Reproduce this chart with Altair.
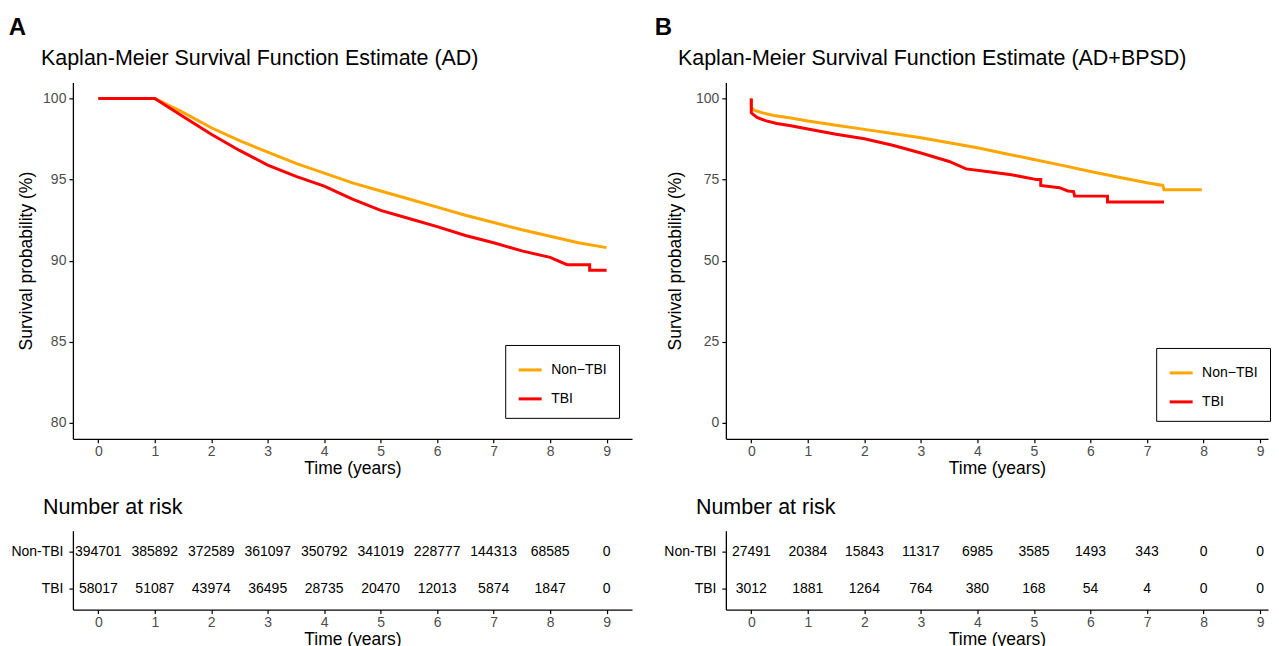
import altair as alt
import pandas as pd

FONT = "Liberation Sans"
ORANGE = "#FFA500"
RED = "#FF0000"
GROUPS = ["Non−TBI", "TBI"]
RISK_GROUPS = ["Non-TBI", "TBI"]
YEARS = [0, 1, 2, 3, 4, 5, 6, 7, 8, 9]

# ---------------- Panel A (AD) survival curves ----------------
a_non_t = [0, 1, 1.5, 2, 2.5, 3, 3.5, 4, 4.5, 5, 5.5, 6, 6.5, 7, 7.5, 8, 8.5, 9.0]
a_non_s = [100, 100, 99.15, 98.2, 97.4, 96.7, 96.0, 95.4, 94.8, 94.3, 93.8, 93.3,
           92.8, 92.35, 91.9, 91.5, 91.1, 90.8]
a_tbi_t = [0, 1, 1.5, 2, 2.5, 3, 3.5, 4, 4.5, 5, 5.5, 6, 6.5, 7, 7.5, 8, 8.3, 8.7, 8.7, 9.0]
a_tbi_s = [100, 100, 98.9, 97.8, 96.8, 95.9, 95.2, 94.6, 93.8, 93.1, 92.6, 92.1,
           91.55, 91.1, 90.6, 90.2, 89.75, 89.75, 89.4, 89.4]

# ---------------- Panel B (AD+BPSD) survival curves ----------------
b_non_t = [0, 0, 0.05, 0.2, 0.4, 0.7, 1.0, 1.5, 2.0, 2.5, 3.0, 3.5, 4.0, 4.5, 5.0,
           5.5, 6.0, 6.5, 7.0, 7.28, 7.3, 7.97]
b_non_s = [100, 97.2, 96.4, 95.6, 94.8, 94.0, 93.1, 91.8, 90.5, 89.2, 87.9, 86.4,
           84.8, 83.0, 81.2, 79.4, 77.5, 75.7, 74.0, 73.2, 71.9, 71.9]
b_tbi_t = [0, 0, 0.1, 0.25, 0.45, 0.7, 1.0, 1.5, 2.0, 2.5, 3.0, 3.5, 3.8, 4.2, 4.6,
           5.05, 5.12, 5.12, 5.45, 5.6, 5.7, 5.72, 6.3, 6.3, 7.3]
b_tbi_s = [100, 95.6, 94.2, 93.2, 92.3, 91.6, 90.6, 89.0, 87.6, 85.6, 83.2, 80.6,
           78.3, 77.4, 76.5, 75.0, 75.0, 73.2, 72.5, 71.5, 71.3, 69.9, 69.9, 68.1, 68.1]

# ---------------- Number at risk ----------------
a_risk_non = [394701, 385892, 372589, 361097, 350792, 341019, 228777, 144313, 68585, 0]
a_risk_tbi = [58017, 51087, 43974, 36495, 28735, 20470, 12013, 5874, 1847, 0]
b_risk_non = [27491, 20384, 15843, 11317, 6985, 3585, 1493, 343, 0, 0]
b_risk_tbi = [3012, 1881, 1264, 764, 380, 168, 54, 4, 0, 0]


def km_df(nt, ns, tt, ts):
    rows = []
    i = 0
    for t, s in zip(nt, ns):
        rows.append({"time": t, "surv": s, "group": GROUPS[0], "idx": i}); i += 1
    for t, s in zip(tt, ts):
        rows.append({"time": t, "surv": s, "group": GROUPS[1], "idx": i}); i += 1
    return pd.DataFrame(rows)


def risk_df(non, tbi):
    rows = []
    for t, n in zip(YEARS, non):
        rows.append({"time": t, "group": RISK_GROUPS[0], "n": n})
    for t, n in zip(YEARS, tbi):
        rows.append({"time": t, "group": RISK_GROUPS[1], "n": n})
    return pd.DataFrame(rows)


def km_chart(df, xdom, ydom, yvals, width, title, title_dx, lx, ly, lab_pad, tit_pad):
    return alt.Chart(df).mark_line(strokeWidth=3, clip=True).encode(
        x=alt.X("time:Q", scale=alt.Scale(domain=xdom, nice=False, zero=False),
                axis=alt.Axis(values=YEARS, format="d", title="Time (years)",
                              labelPadding=2, titlePadding=1)),
        y=alt.Y("surv:Q", scale=alt.Scale(domain=ydom, nice=False, zero=False),
                axis=alt.Axis(values=yvals, format="d", title="Survival probability (%)",
                              labelPadding=lab_pad, titlePadding=tit_pad)),
        color=alt.Color("group:N", scale=alt.Scale(domain=GROUPS, range=[ORANGE, RED]),
                        legend=alt.Legend(title=None, orient="none", legendX=lx, legendY=ly,
                                          strokeColor="black", fillColor="white", padding=12,
                                          symbolType="stroke", symbolSize=529,
                                          symbolStrokeWidth=3, labelFontSize=14,
                                          labelFont=FONT, labelColor="black",
                                          rowPadding=9, labelOffset=8, cornerRadius=0)),
        order=alt.Order("idx:Q"),
    ).properties(
        width=width, height=357,
        title=alt.TitleParams(title, anchor="start", frame="group", dx=title_dx,
                              fontSize=21.5, fontWeight="normal", font=FONT,
                              color="black", offset=13),
    )


def risk_chart(df, xdom, width, title_dx, lab_pad):
    return alt.Chart(df).mark_text(font=FONT, fontSize=14, color="black").encode(
        x=alt.X("time:Q", scale=alt.Scale(domain=xdom, nice=False, zero=False),
                axis=alt.Axis(values=YEARS, format="d", title="Time (years)",
                              labelPadding=2, titlePadding=1)),
        y=alt.Y("group:N", scale=alt.Scale(domain=RISK_GROUPS, padding=0.57),
                axis=alt.Axis(title=None, labelColor="black", labelPadding=lab_pad)),
        text=alt.Text("n:Q", format="d"),
    ).properties(
        width=width, height=79,
        title=alt.TitleParams("Number at risk", anchor="start", frame="group", dx=title_dx,
                              fontSize=21.5, fontWeight="normal", font=FONT,
                              color="black", offset=12),
    )


xdom_a = [-0.45, 9.45]
xdom_b = [-0.45, 9.14]

km_a = km_chart(km_df(a_non_t, a_non_s, a_tbi_t, a_tbi_s), xdom_a, [79, 101],
                [80, 85, 90, 95, 100], 560,
                "Kaplan-Meier Survival Function Estimate (AD)", -32, 433, 263, 3, 7)
km_b = km_chart(km_df(b_non_t, b_non_s, b_tbi_t, b_tbi_s), xdom_b, [-5, 105],
                [0, 25, 50, 75, 100], 543,
                "Kaplan-Meier Survival Function Estimate (AD+BPSD)", -48, 431, 266, 3, 11)

risk_a = risk_chart(risk_df(a_risk_non, a_risk_tbi), xdom_a, 560, -30, 6)
risk_b = risk_chart(risk_df(b_risk_non, b_risk_tbi), xdom_b, 543, -30, 6)

panel_a = alt.vconcat(km_a, risk_a, spacing=19).properties(
    title=alt.TitleParams("A", anchor="start", fontSize=24, fontWeight="bold", font=FONT,
                          color="black", offset=8, dx=-2))
panel_b = alt.vconcat(km_b, risk_b, spacing=19).properties(
    title=alt.TitleParams("B", anchor="start", fontSize=24, fontWeight="bold", font=FONT,
                          color="black", offset=8, dx=-9))

chart = alt.hconcat(panel_a, panel_b, spacing=22).resolve_scale(
    color="independent"
).properties(
    padding={"left": 0, "top": 7, "right": 0, "bottom": 0}
).configure_view(stroke=None).configure_axis(
    grid=False, domainColor="black", domainWidth=1.3, tickColor="black", tickWidth=1.2,
    tickSize=4, labelColor="#4D4D4D", labelFont=FONT, labelFontSize=14,
    titleFont=FONT, titleFontSize=17.5, titleFontWeight="normal", titleColor="black",
)

chart.save("out.html", embed_options={"renderer": "svg", "actions": False})
